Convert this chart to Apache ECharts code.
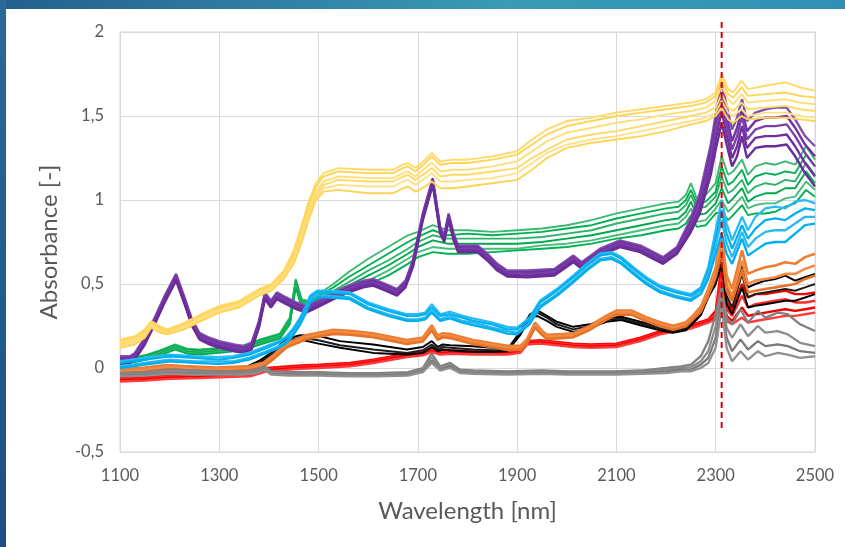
<!DOCTYPE html>
<html>
<head>
<meta charset="utf-8">
<script src="https://cdn.jsdelivr.net/npm/echarts@6/dist/echarts.min.js"></script>
<style>
  html, body { margin: 0; padding: 0; background: #ffffff; }
  #chart { width: 845px; height: 547px; }
</style>
</head>
<body>
<div id="chart"></div>
<script>
// ---- NIR absorbance spectra, grouped by sample type ----
const X_TICKS = [1100, 1300, 1500, 1700, 1900, 2100, 2300, 2500];
const Y_TICKS = [-0.5, 0, 0.5, 1, 1.5, 2];

// Yellow group
const YELLOW_WL = [1100,1130,1150,1163,1180,1195,1230,1270,1300,1340,1380,1405,1430,1450,1465,1480,1495,1510,1540,1600,1650,1670,1680,1695,1715,1728,1745,1770,1800,1850,1900,1930,1960,2000,2050,2100,2150,2200,2250,2280,2300,2312,2325,2335,2352,2365,2400,2440,2470,2500];
const YELLOW_1 = [0.17,0.19,0.23,0.28,0.25,0.23,0.27,0.33,0.37,0.40,0.47,0.50,0.58,0.70,0.84,0.99,1.10,1.16,1.19,1.18,1.18,1.21,1.22,1.19,1.24,1.28,1.23,1.24,1.24,1.26,1.29,1.36,1.42,1.47,1.49,1.52,1.54,1.56,1.58,1.60,1.64,1.75,1.66,1.64,1.71,1.66,1.68,1.70,1.67,1.65];
const YELLOW_2 = [0.16,0.18,0.22,0.27,0.24,0.22,0.26,0.32,0.36,0.39,0.46,0.49,0.57,0.68,0.82,0.97,1.08,1.14,1.17,1.16,1.16,1.19,1.20,1.17,1.22,1.26,1.21,1.22,1.22,1.24,1.27,1.33,1.39,1.44,1.47,1.50,1.52,1.54,1.56,1.58,1.62,1.72,1.63,1.61,1.67,1.62,1.63,1.64,1.62,1.61];
const YELLOW_3 = [0.15,0.17,0.21,0.26,0.23,0.21,0.25,0.31,0.35,0.38,0.45,0.48,0.56,0.66,0.80,0.94,1.05,1.11,1.14,1.13,1.13,1.16,1.17,1.14,1.19,1.22,1.17,1.18,1.18,1.20,1.23,1.29,1.35,1.40,1.43,1.46,1.48,1.51,1.53,1.55,1.59,1.68,1.60,1.57,1.63,1.58,1.59,1.60,1.58,1.57];
const YELLOW_4 = [0.14,0.16,0.20,0.25,0.22,0.21,0.24,0.30,0.34,0.37,0.44,0.47,0.55,0.65,0.78,0.92,1.03,1.09,1.12,1.11,1.11,1.14,1.15,1.12,1.16,1.19,1.14,1.15,1.15,1.17,1.19,1.25,1.30,1.36,1.39,1.41,1.44,1.47,1.50,1.52,1.55,1.63,1.55,1.53,1.58,1.54,1.55,1.56,1.54,1.53];
const YELLOW_5 = [0.13,0.15,0.19,0.25,0.22,0.20,0.24,0.30,0.34,0.37,0.44,0.47,0.54,0.64,0.76,0.90,1.01,1.07,1.09,1.08,1.08,1.11,1.12,1.09,1.13,1.16,1.11,1.11,1.12,1.13,1.16,1.22,1.28,1.33,1.36,1.38,1.41,1.44,1.47,1.49,1.52,1.59,1.52,1.50,1.54,1.50,1.52,1.52,1.50,1.49];
const YELLOW_6 = [0.12,0.14,0.18,0.24,0.21,0.20,0.23,0.29,0.33,0.36,0.43,0.46,0.53,0.62,0.74,0.88,1.00,1.05,1.06,1.04,1.04,1.07,1.08,1.05,1.08,1.11,1.07,1.07,1.08,1.10,1.12,1.18,1.25,1.31,1.34,1.36,1.38,1.41,1.45,1.47,1.50,1.55,1.48,1.46,1.50,1.48,1.49,1.49,1.48,1.47];

// Purple group
const PURPLE_WL = [1100,1120,1130,1150,1170,1190,1213,1230,1245,1260,1280,1300,1330,1350,1365,1380,1392,1404,1416,1435,1455,1475,1500,1530,1560,1590,1610,1635,1658,1675,1690,1710,1730,1745,1753,1762,1772,1781,1800,1820,1840,1860,1880,1920,1975,2013,2030,2067,2107,2148,2194,2222,2248,2268,2290,2300,2312,2322,2333,2343,2353,2363,2380,2400,2420,2443,2460,2480,2500];
const PURPLE_1 = [0.07,0.07,0.09,0.18,0.30,0.43,0.56,0.42,0.29,0.21,0.18,0.16,0.14,0.13,0.15,0.28,0.45,0.40,0.45,0.42,0.39,0.37,0.40,0.45,0.49,0.52,0.53,0.50,0.47,0.52,0.64,0.92,1.13,0.84,0.79,0.92,0.80,0.73,0.73,0.73,0.68,0.62,0.58,0.58,0.59,0.67,0.63,0.71,0.76,0.73,0.66,0.72,0.88,1.04,1.33,1.51,1.70,1.56,1.42,1.49,1.60,1.47,1.52,1.54,1.55,1.55,1.48,1.38,1.32];
const PURPLE_2 = [0.06,0.06,0.08,0.17,0.29,0.42,0.55,0.41,0.28,0.20,0.17,0.15,0.13,0.12,0.14,0.27,0.44,0.39,0.44,0.41,0.38,0.36,0.39,0.44,0.48,0.51,0.52,0.49,0.46,0.51,0.63,0.91,1.12,0.83,0.78,0.91,0.79,0.72,0.72,0.72,0.67,0.61,0.57,0.57,0.58,0.66,0.62,0.70,0.75,0.72,0.65,0.71,0.86,1.01,1.29,1.46,1.64,1.50,1.35,1.43,1.54,1.41,1.47,1.49,1.49,1.50,1.43,1.33,1.26];
const PURPLE_3 = [0.05,0.05,0.07,0.16,0.28,0.41,0.54,0.40,0.27,0.19,0.16,0.14,0.12,0.11,0.13,0.26,0.43,0.38,0.43,0.40,0.37,0.35,0.385,0.43,0.47,0.50,0.51,0.48,0.45,0.50,0.62,0.90,1.11,0.82,0.77,0.90,0.78,0.71,0.71,0.71,0.66,0.60,0.565,0.56,0.57,0.65,0.61,0.69,0.74,0.71,0.64,0.70,0.84,0.98,1.25,1.42,1.60,1.45,1.30,1.38,1.50,1.36,1.42,1.44,1.44,1.45,1.38,1.28,1.20];
const PURPLE_4 = [0.04,0.04,0.06,0.15,0.27,0.40,0.53,0.39,0.26,0.18,0.15,0.13,0.11,0.10,0.12,0.25,0.42,0.37,0.42,0.39,0.36,0.34,0.375,0.42,0.46,0.49,0.50,0.47,0.44,0.49,0.61,0.89,1.10,0.81,0.76,0.89,0.77,0.70,0.70,0.70,0.65,0.59,0.555,0.55,0.56,0.64,0.60,0.68,0.73,0.70,0.63,0.69,0.82,0.95,1.20,1.36,1.53,1.39,1.25,1.32,1.44,1.31,1.37,1.38,1.38,1.39,1.32,1.22,1.14];
const PURPLE_5 = [0.03,0.03,0.05,0.14,0.26,0.39,0.52,0.38,0.25,0.17,0.14,0.12,0.10,0.09,0.11,0.24,0.41,0.36,0.41,0.38,0.35,0.33,0.365,0.41,0.45,0.48,0.49,0.46,0.43,0.48,0.60,0.88,1.09,0.80,0.75,0.88,0.76,0.69,0.69,0.69,0.64,0.58,0.545,0.54,0.55,0.63,0.59,0.67,0.72,0.69,0.62,0.68,0.80,0.92,1.15,1.30,1.46,1.33,1.20,1.26,1.38,1.25,1.31,1.32,1.32,1.33,1.26,1.16,1.08];

// Green group
const GREEN_WL = [1100,1130,1154,1180,1211,1235,1260,1300,1348,1382,1422,1442,1454,1466,1480,1500,1530,1560,1600,1640,1680,1700,1730,1760,1800,1850,1900,1950,2000,2050,2100,2150,2200,2225,2240,2250,2262,2280,2300,2312,2325,2335,2353,2365,2380,2400,2420,2440,2460,2482,2500];
const GREEN_1 = [0.05,0.065,0.08,0.105,0.14,0.115,0.11,0.12,0.135,0.17,0.205,0.30,0.53,0.41,0.40,0.44,0.50,0.57,0.65,0.72,0.79,0.81,0.85,0.82,0.82,0.81,0.82,0.83,0.85,0.88,0.92,0.95,0.98,0.99,1.03,1.10,1.01,1.03,1.10,1.26,1.15,1.17,1.24,1.15,1.20,1.22,1.21,1.23,1.21,1.32,1.24];
const GREEN_2 = [0.045,0.06,0.075,0.10,0.135,0.11,0.105,0.115,0.13,0.165,0.20,0.29,0.52,0.40,0.39,0.43,0.48,0.54,0.61,0.68,0.75,0.78,0.82,0.79,0.80,0.79,0.80,0.81,0.83,0.85,0.89,0.92,0.95,0.96,1.00,1.06,0.98,0.99,1.05,1.20,1.09,1.11,1.18,1.09,1.14,1.16,1.15,1.17,1.16,1.27,1.20];
const GREEN_3 = [0.035,0.05,0.065,0.09,0.125,0.10,0.095,0.105,0.12,0.155,0.19,0.28,0.51,0.39,0.38,0.42,0.46,0.51,0.58,0.64,0.71,0.75,0.79,0.77,0.77,0.77,0.77,0.78,0.80,0.82,0.86,0.89,0.92,0.93,0.97,1.03,0.95,0.96,1.02,1.14,1.04,1.06,1.12,1.04,1.08,1.10,1.09,1.12,1.11,1.22,1.15];
const GREEN_4 = [0.03,0.045,0.06,0.085,0.12,0.095,0.09,0.10,0.115,0.15,0.185,0.27,0.50,0.38,0.37,0.41,0.45,0.49,0.55,0.61,0.68,0.72,0.76,0.74,0.74,0.74,0.74,0.75,0.77,0.79,0.82,0.85,0.88,0.89,0.93,0.99,0.91,0.92,0.98,1.07,0.98,1.01,1.07,0.99,1.02,1.04,1.04,1.07,1.07,1.17,1.10];
const GREEN_5 = [0.025,0.04,0.055,0.08,0.115,0.09,0.085,0.095,0.11,0.145,0.18,0.265,0.49,0.37,0.37,0.40,0.44,0.47,0.52,0.58,0.65,0.69,0.72,0.71,0.71,0.71,0.71,0.73,0.74,0.76,0.79,0.82,0.85,0.86,0.90,0.95,0.87,0.88,0.95,1.00,0.93,0.96,1.02,0.95,0.97,0.98,0.98,1.01,1.02,1.11,1.06];
const GREEN_6 = [0.02,0.035,0.05,0.075,0.11,0.085,0.08,0.09,0.105,0.14,0.175,0.26,0.48,0.36,0.36,0.39,0.43,0.45,0.50,0.55,0.62,0.66,0.69,0.68,0.68,0.69,0.70,0.71,0.72,0.74,0.77,0.79,0.82,0.83,0.86,0.91,0.84,0.85,0.92,0.93,0.88,0.91,0.97,0.91,0.92,0.92,0.93,0.96,0.98,1.06,1.02];

// Blue group
const BLUE_WL = [1100,1150,1200,1250,1300,1328,1360,1395,1420,1436,1450,1463,1475,1483,1497,1520,1563,1600,1640,1678,1700,1715,1728,1745,1765,1790,1811,1850,1880,1900,1925,1946,1980,2013,2040,2067,2090,2110,2134,2160,2188,2220,2250,2270,2285,2300,2312,2322,2333,2353,2365,2380,2400,2420,2440,2460,2480,2500];
const BLUE_1 = [0.04,0.06,0.08,0.07,0.065,0.07,0.09,0.13,0.16,0.19,0.24,0.30,0.37,0.43,0.46,0.46,0.45,0.39,0.35,0.32,0.32,0.33,0.38,0.32,0.335,0.31,0.295,0.27,0.245,0.24,0.30,0.40,0.47,0.55,0.62,0.68,0.69,0.66,0.60,0.54,0.49,0.46,0.44,0.48,0.60,0.82,1.00,0.86,0.76,0.90,0.82,0.90,0.95,0.96,0.95,0.99,1.00,0.98];
const BLUE_2 = [0.03,0.05,0.07,0.06,0.05,0.06,0.08,0.12,0.15,0.18,0.23,0.29,0.36,0.42,0.45,0.45,0.44,0.38,0.34,0.31,0.31,0.32,0.36,0.31,0.32,0.30,0.28,0.26,0.23,0.23,0.29,0.39,0.46,0.54,0.61,0.67,0.68,0.65,0.59,0.53,0.48,0.45,0.43,0.47,0.58,0.77,0.94,0.80,0.71,0.85,0.77,0.83,0.88,0.89,0.88,0.92,0.95,0.94];
const BLUE_3 = [0.01,0.03,0.05,0.04,0.04,0.04,0.06,0.10,0.13,0.16,0.21,0.27,0.34,0.40,0.43,0.43,0.42,0.36,0.32,0.29,0.29,0.30,0.34,0.29,0.31,0.28,0.27,0.24,0.22,0.21,0.27,0.37,0.44,0.52,0.59,0.65,0.66,0.63,0.57,0.51,0.46,0.43,0.41,0.46,0.56,0.73,0.88,0.74,0.66,0.81,0.72,0.77,0.81,0.82,0.82,0.86,0.90,0.90];
const BLUE_4 = [0.00,0.02,0.04,0.03,0.025,0.03,0.05,0.09,0.12,0.15,0.20,0.26,0.33,0.39,0.42,0.42,0.41,0.35,0.31,0.28,0.28,0.29,0.33,0.28,0.295,0.27,0.255,0.23,0.205,0.20,0.26,0.36,0.43,0.51,0.58,0.64,0.65,0.62,0.56,0.50,0.45,0.42,0.40,0.44,0.53,0.68,0.80,0.68,0.62,0.77,0.67,0.70,0.74,0.75,0.75,0.80,0.85,0.86];

// Orange group
const ORANGE_WL = [1100,1150,1194,1228,1295,1362,1389,1409,1436,1476,1530,1563,1610,1678,1710,1728,1740,1750,1765,1811,1850,1880,1906,1920,1936,1950,1960,1990,2013,2047,2080,2100,2130,2160,2188,2214,2240,2254,2270,2285,2300,2312,2322,2333,2353,2365,2380,2400,2420,2440,2460,2480,2500];
const ORANGE_1 = [-0.008,0.002,0.018,0.012,0.002,0.012,0.032,0.077,0.147,0.197,0.227,0.222,0.207,0.167,0.182,0.255,0.192,0.207,0.202,0.167,0.147,0.132,0.132,0.172,0.27,0.222,0.197,0.202,0.207,0.252,0.312,0.342,0.342,0.302,0.272,0.252,0.272,0.312,0.365,0.47,0.60,0.80,0.55,0.47,0.70,0.56,0.58,0.60,0.61,0.63,0.62,0.66,0.68];
const ORANGE_2 = [-0.02,-0.01,0.006,0.0,-0.01,0.0,0.02,0.065,0.135,0.185,0.215,0.21,0.195,0.155,0.17,0.24,0.18,0.195,0.19,0.155,0.135,0.12,0.12,0.16,0.255,0.21,0.185,0.19,0.195,0.24,0.30,0.33,0.33,0.29,0.26,0.24,0.26,0.30,0.35,0.45,0.57,0.75,0.50,0.43,0.64,0.50,0.52,0.53,0.54,0.56,0.56,0.59,0.61];
const ORANGE_3 = [-0.032,-0.022,-0.006,-0.012,-0.022,-0.012,0.008,0.053,0.123,0.173,0.203,0.198,0.183,0.143,0.158,0.225,0.168,0.183,0.178,0.143,0.123,0.108,0.108,0.148,0.24,0.198,0.173,0.178,0.183,0.228,0.288,0.318,0.318,0.278,0.248,0.228,0.248,0.288,0.335,0.43,0.54,0.70,0.46,0.40,0.58,0.45,0.46,0.47,0.48,0.49,0.50,0.53,0.55];

// Black group
const BLACK_WL = [1100,1150,1200,1250,1300,1350,1382,1409,1436,1463,1500,1543,1610,1678,1710,1728,1740,1750,1765,1811,1850,1880,1906,1926,1940,1960,1980,2013,2047,2080,2110,2148,2188,2214,2240,2254,2270,2285,2300,2312,2322,2333,2353,2365,2380,2400,2420,2440,2460,2480,2500];
const BLACK_1 = [-0.02,-0.01,0.01,0.0,-0.01,0.0,0.045,0.10,0.175,0.195,0.19,0.16,0.14,0.11,0.125,0.16,0.125,0.14,0.135,0.13,0.12,0.11,0.215,0.32,0.345,0.31,0.275,0.245,0.26,0.295,0.305,0.275,0.245,0.23,0.245,0.285,0.335,0.44,0.56,0.74,0.48,0.40,0.62,0.48,0.50,0.52,0.53,0.55,0.52,0.54,0.56];
const BLACK_2 = [-0.03,-0.02,0.0,-0.01,-0.02,-0.01,0.035,0.09,0.165,0.18,0.165,0.135,0.11,0.09,0.105,0.14,0.11,0.125,0.12,0.11,0.105,0.105,0.205,0.31,0.33,0.30,0.26,0.23,0.25,0.285,0.295,0.265,0.235,0.22,0.235,0.275,0.325,0.43,0.53,0.68,0.43,0.36,0.56,0.42,0.44,0.45,0.46,0.47,0.46,0.48,0.50];
const BLACK_3 = [-0.04,-0.03,-0.01,-0.02,-0.03,-0.02,0.025,0.08,0.155,0.17,0.145,0.12,0.09,0.08,0.09,0.125,0.10,0.11,0.105,0.095,0.095,0.10,0.195,0.30,0.31,0.28,0.245,0.215,0.24,0.275,0.285,0.255,0.225,0.21,0.225,0.265,0.315,0.42,0.50,0.62,0.38,0.32,0.48,0.36,0.37,0.38,0.39,0.40,0.40,0.42,0.44];

// Red group
const RED_WL = [1100,1150,1200,1261,1300,1362,1395,1463,1500,1563,1610,1678,1710,1728,1745,1765,1811,1880,1906,1920,1946,1980,2013,2047,2100,2148,2188,2214,2250,2285,2300,2312,2322,2333,2353,2365,2380,2400,2420,2440,2460,2480,2500];
const RED_1 = [-0.06,-0.055,-0.045,-0.04,-0.035,-0.03,0.0,0.015,0.02,0.03,0.05,0.085,0.095,0.115,0.10,0.105,0.10,0.10,0.11,0.16,0.165,0.155,0.145,0.14,0.145,0.18,0.22,0.235,0.255,0.29,0.34,0.62,0.40,0.34,0.50,0.42,0.44,0.44,0.45,0.46,0.44,0.44,0.45];
const RED_2 = [-0.067,-0.062,-0.052,-0.047,-0.042,-0.037,-0.007,0.008,0.013,0.023,0.043,0.078,0.088,0.108,0.093,0.098,0.093,0.093,0.103,0.153,0.158,0.148,0.138,0.133,0.138,0.173,0.213,0.228,0.248,0.283,0.32,0.55,0.35,0.31,0.43,0.36,0.38,0.39,0.40,0.41,0.39,0.39,0.40];
const RED_3 = [-0.073,-0.068,-0.058,-0.053,-0.048,-0.043,-0.013,0.002,0.007,0.017,0.037,0.072,0.082,0.102,0.087,0.092,0.087,0.087,0.097,0.147,0.152,0.142,0.132,0.127,0.132,0.167,0.207,0.222,0.242,0.277,0.30,0.48,0.31,0.28,0.36,0.31,0.32,0.33,0.34,0.35,0.34,0.35,0.36];
const RED_4 = [-0.08,-0.075,-0.065,-0.06,-0.055,-0.05,-0.02,-0.005,0.0,0.01,0.03,0.065,0.075,0.095,0.08,0.085,0.08,0.08,0.09,0.14,0.145,0.135,0.125,0.12,0.125,0.16,0.20,0.215,0.235,0.27,0.29,0.40,0.28,0.26,0.30,0.27,0.28,0.29,0.30,0.31,0.31,0.32,0.33];

// Gray group
const GRAY_WL = [1100,1150,1200,1250,1300,1350,1375,1390,1405,1440,1500,1560,1620,1680,1710,1728,1745,1765,1785,1811,1880,1950,2000,2100,2150,2200,2230,2250,2270,2285,2300,2312,2322,2333,2350,2365,2385,2400,2425,2445,2470,2500];
const GRAY_1 = [-0.03,-0.025,-0.01,-0.015,-0.02,-0.02,-0.01,0.01,-0.02,-0.025,-0.025,-0.03,-0.03,-0.025,0.0,0.085,0.01,0.03,-0.01,-0.015,-0.02,-0.015,-0.02,-0.02,-0.015,0.0,0.01,0.02,0.07,0.16,0.32,0.48,0.30,0.26,0.35,0.27,0.34,0.30,0.33,0.32,0.26,0.22];
const GRAY_2 = [-0.04,-0.035,-0.02,-0.025,-0.03,-0.03,-0.02,0.0,-0.03,-0.035,-0.035,-0.04,-0.04,-0.035,-0.01,0.065,0.0,0.02,-0.02,-0.025,-0.03,-0.025,-0.03,-0.03,-0.025,-0.01,0.0,0.005,0.04,0.10,0.25,0.44,0.24,0.18,0.26,0.19,0.25,0.21,0.22,0.20,0.15,0.13];
const GRAY_3 = [-0.045,-0.04,-0.03,-0.03,-0.035,-0.035,-0.025,-0.005,-0.035,-0.04,-0.04,-0.045,-0.045,-0.04,-0.02,0.045,-0.01,0.01,-0.025,-0.03,-0.035,-0.03,-0.035,-0.035,-0.03,-0.02,-0.01,-0.01,0.02,0.06,0.18,0.40,0.18,0.10,0.17,0.11,0.16,0.13,0.14,0.13,0.10,0.09];
const GRAY_4 = [-0.05,-0.045,-0.035,-0.04,-0.04,-0.04,-0.03,-0.01,-0.04,-0.045,-0.045,-0.05,-0.05,-0.045,-0.025,0.03,-0.015,0.0,-0.03,-0.035,-0.04,-0.035,-0.04,-0.04,-0.035,-0.03,-0.02,-0.02,0.0,0.03,0.12,0.36,0.12,0.04,0.10,0.05,0.10,0.07,0.09,0.08,0.06,0.07];

// Reference wavelength marker (dashed)
const MARKER_WL = 2312;
const MARKER_Y = [2.06, -0.38];

// ---- build series ----
const groups = [
  { wl: RED_WL,    lines: [RED_1, RED_2, RED_3, RED_4], colors: ['#FF0000','#FF2A2A','#F00000','#FF3B3B'], width: 2.4 },
  { wl: BLACK_WL,  lines: [BLACK_1, BLACK_2, BLACK_3], colors: ['#000000','#1c1c1c','#000000'], width: 2 },
  { wl: ORANGE_WL, lines: [ORANGE_1, ORANGE_2, ORANGE_3], colors: ['#ED7D31','#F08A45','#E67328'], width: 2.6 },
  { wl: GRAY_WL,   lines: [GRAY_1, GRAY_2, GRAY_3, GRAY_4], colors: ['#808080','#8C8C8C','#7A7A7A','#909090'], width: 2.3 },
  { wl: GREEN_WL,  lines: [GREEN_1, GREEN_2, GREEN_3, GREEN_4, GREEN_5, GREEN_6], colors: ['#3CB870','#00B050','#2FB36A','#00A84C','#45BC77','#00B050'], width: 1.9 },
  { wl: PURPLE_WL, lines: [PURPLE_1, PURPLE_2, PURPLE_3, PURPLE_4, PURPLE_5], colors: ['#8050B0','#7030A0','#7B3FAA','#7030A0','#6A2C98'], width: 2.4 },
  { wl: BLUE_WL,   lines: [BLUE_1, BLUE_2, BLUE_3, BLUE_4], colors: ['#2BBBF2','#00B0F0','#26B8F0','#00AEEF'], width: 2.3 },
  { wl: YELLOW_WL, lines: [YELLOW_1, YELLOW_2, YELLOW_3, YELLOW_4, YELLOW_5, YELLOW_6], colors: ['#FFD966','#FFD455','#FFDE7A','#FFD966','#FFE08A','#FFD455'], width: 1.9 }
];

const series = [];
groups.forEach(g => {
  g.lines.forEach((vals, i) => {
    series.push({
      type: 'line',
      data: g.wl.map((w, k) => [w, vals[k]]),
      showSymbol: false,
      silent: true,
      lineStyle: { color: g.colors[i % g.colors.length], width: g.width },
      z: 2
    });
  });
});

series.push({
  type: 'line',
  data: MARKER_Y.map(v => [MARKER_WL, v]),
  showSymbol: false,
  silent: true,
  clip: false,
  lineStyle: { color: '#E00000', width: 2, type: [6, 4] },
  z: 5
});

const TEXT = '#595959';
const FONT = 'Lato, "Open Sans", sans-serif';

const chart = echarts.init(document.getElementById('chart'), null, { renderer: 'canvas' });
chart.setOption({
  animation: false,
  backgroundColor: '#ffffff',
  graphic: [
    {
      type: 'rect', left: 0, top: 0, z: 10,
      shape: { width: 845, height: 9 },
      style: { fill: new echarts.graphic.LinearGradient(0, 0, 1, 0, [
        { offset: 0, color: '#245f8d' }, { offset: 0.6, color: '#3a9bb6' }, { offset: 1, color: '#3190b3' }
      ]) }
    },
    {
      type: 'rect', left: 0, top: 0, z: 10,
      shape: { width: 6, height: 547 },
      style: { fill: new echarts.graphic.LinearGradient(0, 0, 0, 1, [
        { offset: 0, color: '#2a6a96' }, { offset: 1, color: '#1b4f85' }
      ]) }
    }
  ],
  grid: { left: 120, right: 30, top: 32, bottom: 95, show: true, borderColor: '#d9d9d9', borderWidth: 1 },
  xAxis: {
    type: 'value',
    min: X_TICKS[0], max: X_TICKS[X_TICKS.length - 1], interval: X_TICKS[1] - X_TICKS[0],
    name: 'Wavelength [nm]', nameLocation: 'middle', nameGap: 47,
    nameTextStyle: { color: TEXT, fontSize: 24, fontFamily: FONT },
    axisLine: { show: true, lineStyle: { color: '#d9d9d9' } },
    axisTick: { show: false },
    axisLabel: { color: TEXT, fontSize: 16.5, fontFamily: FONT, margin: 15,
      formatter: v => String(v) },
    splitLine: { show: true, lineStyle: { color: '#d9d9d9', width: 1 } }
  },
  yAxis: {
    type: 'value',
    min: Y_TICKS[0], max: Y_TICKS[Y_TICKS.length - 1], interval: Y_TICKS[1] - Y_TICKS[0],
    name: 'Absorbance [-]', nameLocation: 'middle', nameGap: 59,
    nameTextStyle: { color: TEXT, fontSize: 24, fontFamily: FONT },
    axisLine: { show: true, lineStyle: { color: '#d9d9d9' } },
    axisTick: { show: false },
    axisLabel: { color: TEXT, fontSize: 16.5, fontFamily: FONT, margin: 16,
      formatter: v => String(v).replace('.', ',') },
    splitLine: { show: true, lineStyle: { color: '#d9d9d9', width: 1 } }
  },
  series: series
});
</script>
</body>
</html>
